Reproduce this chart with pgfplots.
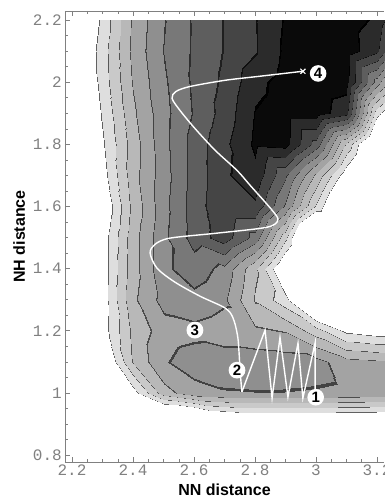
\documentclass[border=0pt]{standalone}
\usepackage{pgfplots}
\pgfplotsset{compat=1.18}
\usepackage{fontspec}
\setmainfont{Liberation Sans}
\newfontfamily\tickfont{Liberation Mono}
\pgfplotsset{
 colormap={pes}{
 gray(0cm)=(0.04);
 gray(0.97cm)=(0.0);
 gray(1.03cm)=(0.17);
 gray(1.97cm)=(0.06);
 gray(2.03cm)=(0.27);
 gray(2.97cm)=(0.12);
 gray(3.03cm)=(0.37);
 gray(3.97cm)=(0.18);
 gray(4.03cm)=(0.47);
 gray(4.97cm)=(0.22);
 gray(5.03cm)=(0.56);
 gray(5.97cm)=(0.26);
 gray(6.03cm)=(0.64);
 gray(6.97cm)=(0.3);
 gray(7.03cm)=(0.72);
 gray(7.97cm)=(0.32);
 gray(8.03cm)=(0.79);
 gray(8.97cm)=(0.34);
 gray(9.03cm)=(0.87);
 gray(9.965cm)=(0.38);
 gray(10.035cm)=(1);
 gray(20cm)=(1)
 }
}
\begin{document}
\begin{tikzpicture}
\begin{axis}[
  scale only axis, width=319pt, height=451pt,
  xmin=2.177, xmax=3.223, ymin=0.7775, ymax=2.229,
  axis x line*=box, axis y line*=left,
  axis on top,
  axis line style={black!50, line width=0.6pt},
  tick align=inside,
  xtick={2.2,2.4,2.6,2.8,3,3.2},
  ytick={0.8,1,1.2,1.4,1.6,1.8,2,2.2},
  minor x tick num=3, minor y tick num=3,
  major tick length=5pt, minor tick length=3pt,
  tick style={black!50, line width=0.5pt},
  /pgf/number format/assume math mode=true,
  tick label style={font=\tickfont\fontsize{16}{16}\selectfont, text=black!50, inner sep=0pt},
  xticklabel shift=3pt, yticklabel shift=3pt,
  xlabel={NN distance}, ylabel={NH distance},
  label style={font=\bfseries\fontsize{16}{16}\selectfont},
  xlabel style={at={(axis description cs:0.5,-0.0732)}, anchor=base},
  ylabel style={at={(axis description cs:-0.1254,0.5)}, anchor=base},
]
\addplot[surf, shader=interp, colormap name=pes, colormap access=piecewise constant,
  point meta=explicit, point meta min=0, point meta max=20,
  mesh/cols=12, mesh/rows=15, mesh/ordering=x varies]
 table[row sep=\\, x=x, y=y, meta=E] {
x y E\\
2.2 0.8 20\\2.3 0.8 20\\2.4 0.8 20\\2.5 0.8 20\\2.6 0.8 20\\2.7 0.8 20\\2.8 0.8 20\\2.9 0.8 20\\3.0 0.8 20\\3.1 0.8 20\\3.2 0.8 20\\3.3 0.8 20\\
2.2 0.9 20\\2.3 0.9 20\\2.4 0.9 20\\2.5 0.9 14.8\\2.6 0.9 14.4\\2.7 0.9 12.8\\2.8 0.9 12.3\\2.9 0.9 12.3\\3.0 0.9 12.3\\3.1 0.9 12.4\\3.2 0.9 12.4\\3.3 0.9 12.4\\
2.2 1.0 20\\2.3 1.0 16\\2.4 1.0 10.5\\2.5 1.0 7.4\\2.6 1.0 6.4\\2.7 1.0 6.1\\2.8 1.0 6.05\\2.9 1.0 6.05\\3.0 1.0 6.1\\3.1 1.0 6.2\\3.2 1.0 6.3\\3.3 1.0 6.3\\
2.2 1.1 15\\2.3 1.1 11.5\\2.4 1.1 7.9\\2.5 1.1 6.1\\2.6 1.1 5.5\\2.7 1.1 5.4\\2.8 1.1 5.4\\2.9 1.1 5.5\\3.0 1.1 5.6\\3.1 1.1 6.6\\3.2 1.1 6.8\\3.3 1.1 6.9\\
2.2 1.2 13.5\\2.3 1.2 10.5\\2.4 1.2 7.7\\2.5 1.2 6.5\\2.6 1.2 6.3\\2.7 1.2 6.6\\2.8 1.2 6.8\\2.9 1.2 7.05\\3.0 1.2 8.5\\3.1 1.2 10.2\\3.2 1.2 10.6\\3.3 1.2 10.8\\
2.2 1.3 14\\2.3 1.3 10.5\\2.4 1.3 7.2\\2.5 1.3 5.6\\2.6 1.3 5.3\\2.7 1.3 5.8\\2.8 1.3 8.1\\2.9 1.3 9.6\\3.0 1.3 13\\3.1 1.3 15\\3.2 1.3 15\\3.3 1.3 15\\
2.2 1.4 14\\2.3 1.4 10.5\\2.4 1.4 7.4\\2.5 1.4 5.2\\2.6 1.4 4.5\\2.7 1.4 5.3\\2.8 1.4 7.8\\2.9 1.4 11.5\\3.0 1.4 15\\3.1 1.4 15\\3.2 1.4 15\\3.3 1.4 15\\
2.2 1.5 14\\2.3 1.5 10.5\\2.4 1.5 7.4\\2.5 1.5 5.2\\2.6 1.5 3.6\\2.7 1.5 2.5\\2.8 1.5 4.4\\2.9 1.5 8.7\\3.0 1.5 15\\3.1 1.5 15\\3.2 1.5 15\\3.3 1.5 15\\
2.2 1.6 14.5\\2.3 1.6 11\\2.4 1.6 7.7\\2.5 1.6 5.3\\2.6 1.6 3.5\\2.7 1.6 2.2\\2.8 1.6 2.2\\2.9 1.6 5.1\\3.0 1.6 9.1\\3.1 1.6 13\\3.2 1.6 15\\3.3 1.6 15\\
2.2 1.7 14\\2.3 1.7 10.4\\2.4 1.7 7.4\\2.5 1.7 5.4\\2.6 1.7 3.6\\2.7 1.7 2.2\\2.8 1.7 1.3\\2.9 1.7 3.8\\3.0 1.7 7.2\\3.1 1.7 10.7\\3.2 1.7 14\\3.3 1.7 15\\
2.2 1.8 12.5\\2.3 1.8 10.1\\2.4 1.8 7.5\\2.5 1.8 5.3\\2.6 1.8 3.6\\2.7 1.8 2.25\\2.8 1.8 0.8\\2.9 1.8 0.6\\3.0 1.8 3.4\\3.1 1.8 8.1\\3.2 1.8 12.9\\3.3 1.8 15\\
2.2 1.9 12.4\\2.3 1.9 9.8\\2.4 1.9 7.2\\2.5 1.9 5.3\\2.6 1.9 3.9\\2.7 1.9 2.6\\2.8 1.9 0.95\\2.9 1.9 0.5\\3.0 1.9 0.5\\3.1 1.9 1.6\\3.2 1.9 9.6\\3.3 1.9 13\\
2.2 2.0 12.3\\2.3 2.0 9.5\\2.4 2.0 6.9\\2.5 2.0 5.15\\2.6 2.0 3.8\\2.7 2.0 2.8\\2.8 2.0 1.3\\2.9 2.0 0.6\\3.0 2.0 0.3\\3.1 2.0 0.6\\3.2 2.0 5.5\\3.3 2.0 10.2\\
2.2 2.1 11.9\\2.3 2.1 9.4\\2.4 2.1 6.7\\2.5 2.1 4.95\\2.6 2.1 3.85\\2.7 2.1 2.95\\2.8 2.1 2.1\\2.9 2.1 0.8\\3.0 2.1 0.4\\3.1 2.1 0.4\\3.2 2.1 1.8\\3.3 2.1 6\\
2.2 2.2 12.2\\2.3 2.2 9.7\\2.4 2.2 6.8\\2.5 2.2 5.05\\2.6 2.2 3.85\\2.7 2.2 2.95\\2.8 2.2 2.05\\2.9 2.2 0.9\\3.0 2.2 0.5\\3.1 2.2 0.5\\3.2 2.2 1.2\\3.3 2.2 4\\
};
% trajectory: oscillation in the NH well
\addplot[white, line width=1.4pt, sharp plot] coordinates {
(2.997,0.995) (2.997,1.160) (2.957,0.983) (2.941,1.160) (2.908,0.987) (2.882,1.179) (2.856,0.983) (2.833,1.202) (2.757,1.003)
};
% trajectory: crossing and product
\addplot[white, line width=1.4pt, smooth, tension=0.5] coordinates {
(2.757,1.003) (2.751,1.073) (2.744,1.176) (2.728,1.241) (2.702,1.273) (2.620,1.311) (2.538,1.356) (2.479,1.401) (2.456,1.450) (2.472,1.478) (2.521,1.498) (2.675,1.514) (2.839,1.533) (2.875,1.556) (2.856,1.588) (2.784,1.668) (2.741,1.716) (2.669,1.781) (2.603,1.851) (2.554,1.909) (2.528,1.948) (2.541,1.970) (2.587,1.986) (2.702,2.006) (2.816,2.019) (2.957,2.035)
};
\addplot[only marks, mark=x, white, mark size=3.5pt, line width=1.2pt] coordinates {(2.957,2.035)};
\node[circle, fill=white, inner sep=1.2pt, font=\bfseries\fontsize{15}{15}\selectfont] at (axis cs:2.999,0.986) {1};
\node[circle, fill=white, inner sep=1.2pt, font=\bfseries\fontsize{15}{15}\selectfont] at (axis cs:2.741,1.073) {2};
\node[circle, fill=white, inner sep=1.2pt, font=\bfseries\fontsize{15}{15}\selectfont] at (axis cs:2.603,1.202) {3};
\node[circle, fill=white, inner sep=1.2pt, font=\bfseries\fontsize{15}{15}\selectfont] at (axis cs:3.007,2.028) {4};
\end{axis}
\pgfresetboundingbox
\path[use as bounding box] (current axis.south west) ++(-65pt,-35pt) rectangle ++(384pt,497pt);
\end{tikzpicture}
\end{document}
